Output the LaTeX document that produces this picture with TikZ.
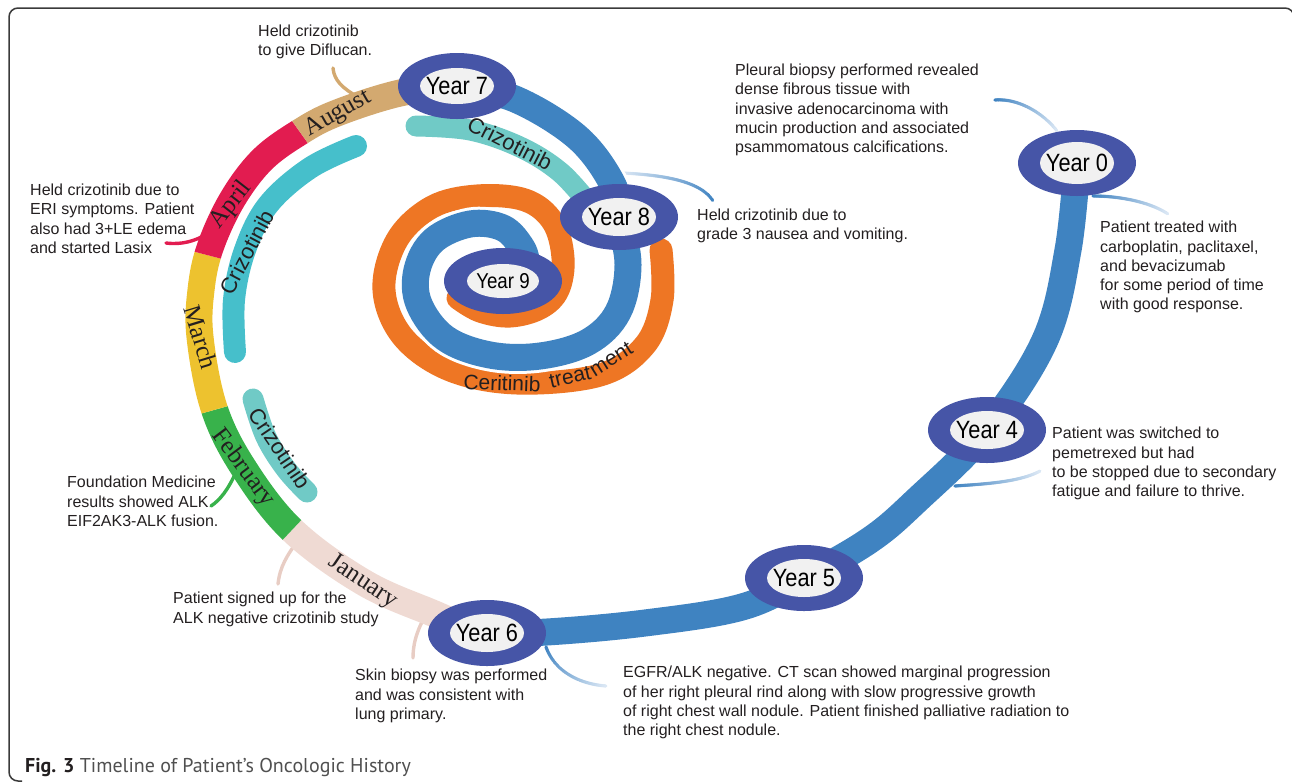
\documentclass[tikz,border=0pt]{standalone}
\usepackage{fontspec}
\setmainfont{Liberation Sans}
\newfontfamily\monthfont{Liberation Serif}
\newfontfamily\capfont{PT Sans}
\usetikzlibrary{shapes.geometric,decorations.markings}
\definecolor{bandblue}{HTML}{3F83C1}
\definecolor{yearring}{HTML}{4655A7}
\definecolor{yearfill}{HTML}{F1F1F1}
\definecolor{orng}{HTML}{EE7624}
\definecolor{teal1}{HTML}{70CAC6}
\definecolor{cyan1}{HTML}{46BFCB}
\definecolor{jan}{HTML}{EFDAD3}
\definecolor{janline}{HTML}{E8CDC4}
\definecolor{feb}{HTML}{38B24B}
\definecolor{mar}{HTML}{EDC22F}
\definecolor{apr}{HTML}{E21C50}
\definecolor{aug}{HTML}{D3A970}
\definecolor{txt}{HTML}{231F20}
\definecolor{fadeblue}{HTML}{DCE8F5}
\definecolor{framecol}{HTML}{3A3A3A}
\definecolor{capgray}{HTML}{505050}
\tikzset{
  yearouter/.style={ellipse, fill=yearring, minimum width=118pt, minimum height=66pt, inner sep=0pt},
  yeartext/.style={inner sep=0pt, font=\fontsize{25}{25}\selectfont, xscale=0.87, text=black},
  note/.style={font=\fontsize{16}{19.2}\selectfont, text=txt, align=left, anchor=north west, inner sep=0pt},
  monthlab/.style={font=\monthfont\fontsize{25}{25}\selectfont, text=txt, inner sep=0pt},
  crizlab/.style={font=\fontsize{22}{22}\selectfont, text=txt, inner sep=0pt},
  cerlab/.style={font=\fontsize{21}{21}\selectfont, text=txt, inner sep=0pt},
  mainband/.style={line width=27pt},
  spiralband/.style 2 args={line width=#1, preaction={draw=white, line width=#2}},
  callout/.style={line width=3.4pt, line cap=round},
  fadecall/.style 2 args={decoration={markings, mark=between positions 0 and 1 step 0.7pt with {\pgfmathtruncatemacro\fr{100*\pgfkeysvalueof{/pgf/decoration/mark info/distance from start}/\pgfdecoratedpathlength}\fill[color=#2!\fr!#1] (0,0) circle (1.7pt);}}, decorate}
}
\def\monthpath{plot[smooth, tension=0.6] coordinates {(547,632) (487,633) (430,612) (363,582) (292,530) (243,467) (214,408) (200,337) (201,290) (210,248) (232,200) (262,160) (300,132) (337,113) (400,93) (457,86)}}
\begin{document}
\begin{tikzpicture}[x=1pt,y=-1pt]
\useasboundingbox (0,0) rectangle (1292,782);
% frame
\draw[line width=1.5pt, color=framecol, rounded corners=9pt] (22,781) -- (9,781) -- (9,8) -- (1294,8) -- (1294,40);

% callout connectors
\coordinate (cA1) at (333,68);  \coordinate (cA2) at (358,97);
\coordinate (cB1) at (166,243); \coordinate (cB2) at (207,234);
\coordinate (cC1) at (211,506); \coordinate (cC2) at (236,472);
\coordinate (cD1) at (278,584); \coordinate (cD2) at (298,540);
\coordinate (cE1) at (413,658); \coordinate (cE2) at (424,618);
\draw[callout, aug] (cA1) .. controls (334,80) and (342,88) .. (cA2);
\draw[callout, apr] (cB1) .. controls (182,245) and (195,241) .. (cB2);
\draw[callout, feb] (cC1) .. controls (220,500) and (228,490) .. (cC2);
\draw[callout, janline] (cD1) .. controls (280,566) and (287,556) .. (cD2);
\draw[callout, janline] (cE1) .. controls (413,645) and (416,633) .. (cE2);

\coordinate (f61) at (546,647); \coordinate (f62) at (606,686);
\coordinate (f41) at (955,486); \coordinate (f42) at (1040,471);
\coordinate (f01) at (995,100); \coordinate (f02) at (1057,131);
\coordinate (f03) at (1093,196); \coordinate (f04) at (1168,214);
\coordinate (f81) at (623,173); \coordinate (f82) at (713,201);
\path[fadecall={bandblue}{fadeblue}] (f61) .. controls (555,672) and (580,684) .. (f62);
\path[fadecall={bandblue}{fadeblue}] (f41) .. controls (985,484) and (1020,482) .. (f42);
\path[fadecall={bandblue}{fadeblue}] (f01) .. controls (1020,98) and (1045,115) .. (f02);
\path[fadecall={bandblue}{fadeblue}] (f03) .. controls (1120,196) and (1150,202) .. (f04);
\path[fadecall={fadeblue}{bandblue}] (f81) .. controls (660,175) and (700,180) .. (f82);

% main blue band
\draw[mainband, bandblue] plot[smooth, tension=0.6] coordinates {(1077,163) (1068,250) (1045,340) (987,430) (917,500) (870,540) (804,578) (742,607) (645,623) (547,632) (487,633)};

% months
\begin{scope}
\clip (469.4,690.4) -- (498.7,594.8) -- (580,330) -- (319.4,500.9) -- (250.8,573.6) -- cycle;
\draw[mainband, jan] \monthpath;
\end{scope}
\begin{scope}
\clip (250.8,573.6) -- (319.4,500.9) -- (580,330) -- (252.5,399.2) -- (156.2,426.2) -- cycle;
\draw[mainband, feb] \monthpath;
\end{scope}
\begin{scope}
\clip (156.2,426.2) -- (252.5,399.2) -- (580,330) -- (245.7,265.1) -- (149,239.9) -- cycle;
\draw[mainband, mar] \monthpath;
\end{scope}
\begin{scope}
\clip (149,239.9) -- (245.7,265.1) -- (580,330) -- (323.2,164.6) -- (265.1,83.2) -- cycle;
\draw[mainband, apr] \monthpath;
\end{scope}
\begin{scope}
\clip (265.1,83.2) -- (323.2,164.6) -- (580,330) -- (475,121.7) -- (430,32.4) -- cycle;
\draw[mainband, aug] \monthpath;
\end{scope}

% crizotinib bands
\draw[line width=22pt, cyan1, line cap=round] plot[smooth, tension=0.6] coordinates {(356,146) (310,168) (268,205) (245,250) (234,300) (235,352)};
\draw[line width=21pt, teal1, line cap=round] plot[smooth, tension=0.6] coordinates {(253,399) (266,437) (286,469) (307,492)};
\draw[line width=21pt, teal1, line cap=round] plot[smooth, tension=0.6] coordinates {(416,126) (470,130) (520,147) (560,172) (590,205)};

% ceritinib (orange) spiral
\draw[spiralband={23pt}{29pt}, orng, line cap=round] plot[smooth, tension=0.6] coordinates {(661,250) (662,300) (645,345) (600,375) (517,383) (450,370) (403,337) (384,290) (397,240) (432,207) (477,196) (525,200) (553,222) (563,258) (558,290) (540,308) (510,316) (480,311) (458,298)};
% blue spiral year 7 -> year 9
\draw[spiralband={27pt}{33pt}, bandblue] plot[smooth, tension=0.6] coordinates {(457,86) (515,99) (577,137) (612,183) (619,217) (628,265) (618,312) (588,342) (540,356) (490,355) (445,338) (419,304) (417,270) (434,240) (470,224) (503,228) (522,248) (527,265)};

% band labels
\node[monthlab, rotate=30] (laug) at (338,114) {August};
\node[monthlab, rotate=52] (lapr) at (231,205) {April};
\node[monthlab, rotate=-73] (lmar) at (201,337) {March};
\node[monthlab, rotate=-53] (lfeb) at (243,468) {February};
\node[monthlab, rotate=-34] (ljan) at (363,582) {January};
\node[crizlab, rotate=-27] (lcz1) at (510,143) {Crizotinib};
\node[crizlab, rotate=62] (lcz2) at (247,252) {Crizotinib};
\node[crizlab, rotate=-56] (lcz3) at (280,448) {Crizotinib};
\node[cerlab, rotate=-2] (lcer1) at (502,383) {Ceritinib};
\node[cerlab, rotate=13] (lcer2) at (570,377) {treat};
\node[cerlab, rotate=32] (lcer3) at (611,359) {ment};

% year ellipses
\node[yearouter] (y0) at (1077,163) {};
\fill[yearfill] (y0.center) ellipse [x radius=37pt, y radius=21pt];
\node[yeartext] (y0t) at (y0.center) {Year 0};
\node[yearouter] (y4) at (987,430) {};
\fill[yearfill] (y4.center) ellipse [x radius=37pt, y radius=19pt];
\node[yeartext] (y4t) at (y4.center) {Year 4};
\node[yearouter] (y5) at (804,578) {};
\fill[yearfill] (y5.center) ellipse [x radius=37pt, y radius=19pt];
\node[yeartext] (y5t) at (y5.center) {Year 5};
\node[yearouter] (y6) at (487,633) {};
\fill[yearfill] (y6.center) ellipse [x radius=37pt, y radius=19pt];
\node[yeartext] (y6t) at (y6.center) {Year 6};
\node[yearouter] (y7) at (457,86) {};
\fill[yearfill] (y7.center) ellipse [x radius=37pt, y radius=18pt];
\node[yeartext] (y7t) at (y7.center) {Year 7};
\node[yearouter] (y8) at (619,217) {};
\fill[yearfill] (y8.center) ellipse [x radius=37pt, y radius=19pt];
\node[yeartext] (y8t) at (y8.center) {Year 8};
\node[yearouter] (y9) at (503,281) {};
\fill[yearfill] (y9.center) ellipse [x radius=36pt, y radius=17pt];
\node[yeartext, font=\fontsize{21.5}{21.5}\selectfont] (y9t) at (y9.center) {Year 9};

% notes
\node[note] (n7) at (258,25) {Held crizotinib\\to give Diflucan.};
\node[note] (napr) at (30,184) {Held crizotinib due to\\ERI symptoms. Patient\\also had 3+LE edema\\and started Lasix};
\node[note] (n0a) at (735,64) {Pleural biopsy performed revealed\\dense fibrous tissue with\\invasive adenocarcinoma with\\mucin production and associated\\psammomatous calcifications.};
\node[note] (n8) at (697,209) {Held crizotinib due to\\grade 3 nausea and vomiting.};
\node[note] (n0b) at (1100,221) {Patient treated with\\carboplatin, paclitaxel,\\and bevacizumab\\for some period of time\\with good response.};
\node[note] (n4) at (1052,427) {Patient was switched to\\pemetrexed but had\\to be stopped due to secondary\\fatigue and failure to thrive.};
\node[note] (n6b) at (623,666) {EGFR/ALK negative. CT scan showed marginal progression\\of her right pleural rind along with slow progressive growth\\of right chest wall nodule. Patient finished palliative radiation to\\the right chest nodule.};
\node[note] (n6a) at (355,669) {Skin biopsy was performed\\and was consistent with\\lung primary.};
\node[note] (njan) at (173,592) {Patient signed up for the\\ALK negative crizotinib study};
\node[note] (nfeb) at (67,476) {Foundation Medicine\\results showed ALK\\EIF2AK3-ALK fusion.};

% caption
\node[anchor=base west, inner sep=0pt, font=\capfont\fontsize{20}{20}\selectfont] (cap) at (25,772) {\textbf{\color{txt}Fig. 3} \color{capgray}Timeline of Patient’s Oncologic History};
\end{tikzpicture}
\end{document}
